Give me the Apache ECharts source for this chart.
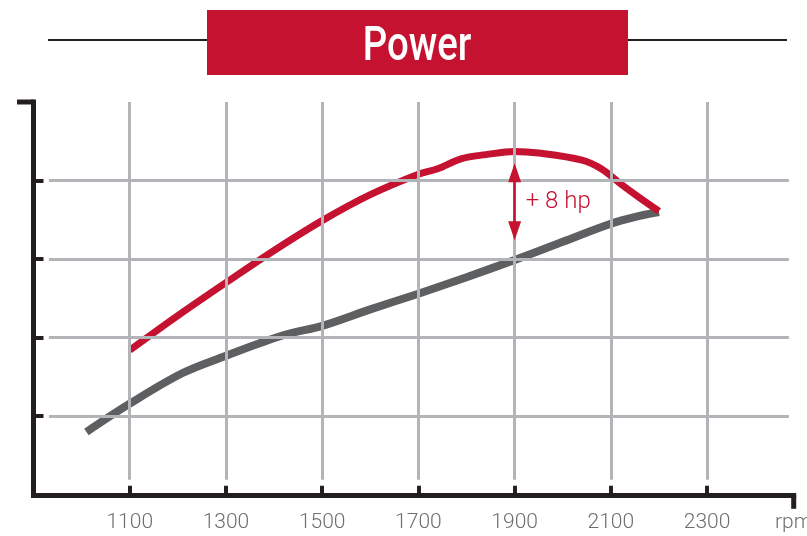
<!DOCTYPE html>
<html>
<head>
<meta charset="utf-8">
<script src="https://cdn.jsdelivr.net/npm/echarts@6/dist/echarts.min.js"></script>
<style>
  html, body { margin: 0; padding: 0; background: #fff; }
  #chart { width: 807px; height: 536px; }
</style>
</head>
<body>
<div id="chart"></div>
<script>
// tick values (power axis has no labels, only tick marks)
const rpmTicks = [1100, 1300, 1500, 1700, 1900, 2100, 2300];
const powerTicks = [10, 20, 30, 40];

// stock engine, grey curve
const stockRpm = [1010, 1100, 1210, 1300, 1370, 1430, 1500, 1600, 1700, 1800, 1900, 2000, 2100, 2160, 2200];
const stockPower = [8.0, 11.6, 15.5, 17.7, 19.3, 20.5, 21.5, 23.6, 25.6, 27.7, 29.9, 32.2, 34.5, 35.5, 36.0];

// tuned engine, red curve
const tunedRpm = [1100, 1200, 1300, 1400, 1500, 1600, 1700, 1740, 1790, 1840, 1900, 1950, 2040, 2080, 2120, 2160, 2200];
const tunedPower = [18.4, 22.8, 27.0, 31.1, 34.9, 38.2, 40.8, 41.5, 42.8, 43.3, 43.7, 43.5, 42.6, 41.5, 39.6, 37.8, 36.1];

// gain annotation
const gainRpm = 1900;
const gainTop = 41.0;
const gainBottom = 33.6;
const gainLabel = '+ 8 hp';

const RED = '#c41230';
const GREY = '#5e5f61';
const GRID = '#b3b4b7';
const INK = '#231f20';
const FONT = 'Roboto, "Liberation Sans", sans-serif';

const xMin = 900, xMax = 2480, yMin = 0, yMax = 50;

const chart = echarts.init(document.getElementById('chart'));

// grid lines as mark lines so they can stop short of the axes
const gridLines = [];
rpmTicks.forEach(v => gridLines.push([{ coord: [v, yMax] }, { coord: [v, 1.9] }]));
powerTicks.forEach(v => gridLines.push([{ coord: [932, v] }, { coord: [2470, v] }]));

const option = {
  animation: false,
  grid: { left: 33.5, top: 102, right: 13.3, bottom: 41.2, outerBoundsMode: 'none', containLabel: false },
  xAxis: {
    type: 'value',
    min: xMin,
    max: xMax,
    name: 'rpm',
    nameLocation: 'end',
    nameGap: 0,
    nameTextStyle: {
      color: '#6d6e71', fontSize: 21, fontFamily: FONT, fontWeight: 300,
      align: 'center', verticalAlign: 'top', padding: [17, 0, 0, 0]
    },
    axisLine: { show: true, onZero: false, lineStyle: { color: INK, width: 5, cap: 'square' } },
    axisTick: { show: true, inside: true, length: 9, customValues: rpmTicks, lineStyle: { color: INK, width: 4 } },
    axisLabel: {
      customValues: rpmTicks, margin: 17, color: '#6d6e71', fontSize: 21, fontFamily: FONT, fontWeight: 300,
      formatter: v => String(v)
    },
    splitLine: { show: false }
  },
  yAxis: {
    type: 'value',
    min: yMin,
    max: yMax,
    interval: 10,
    axisLine: { show: true, onZero: false, lineStyle: { color: INK, width: 5, cap: 'square' } },
    axisTick: { show: true, inside: true, length: 10, customValues: powerTicks, lineStyle: { color: INK, width: 4 } },
    axisLabel: { show: false },
    splitLine: { show: false }
  },
  series: [
    {
      type: 'line',
      data: [],
      z: 1,
      silent: true,
      markLine: {
        silent: true,
        symbol: ['none', 'none'],
        label: { show: false },
        lineStyle: { color: GRID, width: 3, type: 'solid' },
        data: gridLines
      }
    },
    {
      name: 'stock',
      type: 'line',
      data: stockRpm.map((r, i) => [r, stockPower[i]]),
      smooth: 0.35,
      showSymbol: false,
      z: 3,
      lineStyle: { color: GREY, width: 8, cap: 'butt' }
    },
    {
      name: 'tuned',
      type: 'line',
      data: tunedRpm.map((r, i) => [r, tunedPower[i]]),
      smooth: 0.35,
      showSymbol: false,
      z: 4,
      lineStyle: { color: RED, width: 7, cap: 'butt' },
      markLine: {
        silent: true,
        symbol: ['triangle', 'triangle'],
        symbolSize: [13, 19],
        label: { show: false },
        lineStyle: { color: RED, width: 2.5, type: 'solid' },
        data: [[{ coord: [gainRpm, gainTop] }, { coord: [gainRpm, gainBottom] }]]
      }
    }
  ]
};

chart.setOption(option);

const [ax0, axTop] = chart.convertToPixel({ gridIndex: 0 }, [xMin, yMax]);
const [ax1, axBot] = chart.convertToPixel({ gridIndex: 0 }, [xMax, yMin]);
const [gx, gy] = chart.convertToPixel({ gridIndex: 0 }, [gainRpm, (gainTop + gainBottom) / 2]);

chart.setOption({
  graphic: [
    // title bar
    { type: 'line', shape: { x1: 48, y1: 40, x2: 787, y2: 40 }, style: { stroke: INK, lineWidth: 2 }, z: 10 },
    { type: 'rect', shape: { x: 207, y: 10, width: 421, height: 65 }, style: { fill: RED }, z: 11 },
    {
      type: 'text', x: 417, y: 48, scaleX: 0.8, z: 12,
      style: { text: 'Power', fill: '#fff', font: '500 48px ' + FONT, align: 'center', verticalAlign: 'middle' }
    },
    // axis end caps
    { type: 'line', shape: { x1: 17, y1: axTop, x2: ax0, y2: axTop }, style: { stroke: INK, lineWidth: 5 }, z: 10 },
    { type: 'line', shape: { x1: ax1, y1: axBot, x2: ax1, y2: axBot + 14 }, style: { stroke: INK, lineWidth: 5 }, z: 10 },
    // gain label
    {
      type: 'text', x: gx + 11, y: gy, z: 12,
      style: { text: gainLabel, fill: RED, font: '300 24px ' + FONT, align: 'left', verticalAlign: 'middle' }
    }
  ]
});

window.addEventListener('resize', () => chart.resize());
</script>
</body>
</html>
